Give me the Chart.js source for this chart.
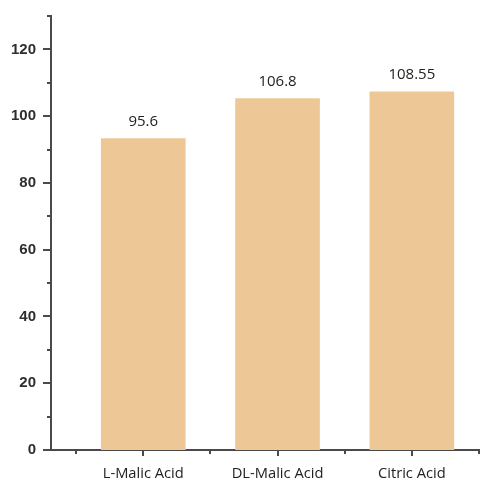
<!DOCTYPE html>
<html>
<head>
<meta charset="utf-8">
<script src="https://cdn.jsdelivr.net/npm/chart.js@4"></script>
<style>
  html, body { margin: 0; padding: 0; background: #fff; }
  #wrap { width: 501px; height: 502px; }
</style>
</head>
<body>
<div id="wrap"><canvas id="acidChart"></canvas></div>
<script>
const categories = ['L-Malic Acid', 'DL-Malic Acid', 'Citric Acid'];
const barHeights = [93.3, 105.3, 107.3];
const valueLabels = ['95.6', '106.8', '108.55'];
const yMajorTicks = [0, 20, 40, 60, 80, 100, 120];
const yMinorTicks = [10, 30, 50, 70, 90, 110, 130];
const xCenters = [0, 1, 2];
const xBounds = [-0.5, 0.5, 1.5, 2.5];

const barColor = '#edc896';
const axisColor = '#4a4a4a';

const tickMarks = {
  id: 'tickMarks',
  afterDraw(chart) {
    const { ctx, scales: { x, y } } = chart;
    ctx.save();
    ctx.strokeStyle = axisColor;
    ctx.lineWidth = 2;
    const left = x.left;
    const bottom = y.bottom;
    ctx.beginPath();
    yMajorTicks.forEach(v => {
      const py = Math.round(y.getPixelForValue(v));
      ctx.moveTo(left - 8, py); ctx.lineTo(left, py);
    });
    yMinorTicks.forEach(v => {
      const py = Math.round(y.getPixelForValue(v));
      ctx.moveTo(left - 4, py); ctx.lineTo(left, py);
    });
    xCenters.forEach(v => {
      const px = Math.round(x.getPixelForValue(v));
      ctx.moveTo(px, bottom); ctx.lineTo(px, bottom + 6);
    });
    xBounds.forEach(v => {
      const px = Math.round(x.getPixelForValue(v));
      ctx.moveTo(px, bottom); ctx.lineTo(px, bottom + 4);
    });
    ctx.stroke();
    ctx.restore();
  }
};

const barValues = {
  id: 'barValues',
  afterDatasetsDraw(chart) {
    const { ctx } = chart;
    const meta = chart.getDatasetMeta(0);
    ctx.save();
    ctx.fillStyle = '#222';
    ctx.font = '15px "Open Sans"';
    ctx.textAlign = 'center';
    ctx.textBaseline = 'middle';
    meta.data.forEach((bar, i) => {
      ctx.fillText(valueLabels[i], bar.x, bar.y - 17);
    });
    ctx.restore();
  }
};

new Chart(document.getElementById('acidChart'), {
  type: 'bar',
  data: {
    datasets: [{
      data: barHeights.map((v, i) => ({ x: xCenters[i], y: v })),
      backgroundColor: barColor,
      borderWidth: 0,
      barThickness: 84
    }]
  },
  options: {
    responsive: true,
    maintainAspectRatio: false,
    animation: false,
    layout: { padding: { left: 0, top: 16, right: 22, bottom: 0 } },
    plugins: { legend: { display: false }, tooltip: { enabled: false } },
    scales: {
      x: {
        type: 'linear',
        offset: false,
        min: -0.687,
        max: 2.5,
        grid: { display: false, drawTicks: false, offset: false },
        border: { display: true, color: axisColor, width: 2 },
        afterBuildTicks: s => { s.ticks = xCenters.map(v => ({ value: v })); },
        afterFit: s => { s.height = 52; s.paddingLeft = 0; s.paddingRight = 0; },
        ticks: {
          padding: 15,
          color: '#222',
          font: { family: 'Open Sans', size: 14.7 },
          callback: v => categories[v]
        }
      },
      y: {
        min: 0,
        max: 130,
        grid: { display: false, drawTicks: false },
        border: { display: true, color: axisColor, width: 2 },
        afterBuildTicks: s => { s.ticks = yMajorTicks.map(v => ({ value: v })); },
        afterFit: s => { s.width = 51; s.paddingTop = 0; s.paddingBottom = 0; },
        ticks: {
          padding: 15,
          color: '#2e2e2e',
          font: { family: 'Liberation Sans', size: 15, weight: 'bold' }
        }
      }
    }
  },
  plugins: [tickMarks, barValues]
});
</script>
</body>
</html>
